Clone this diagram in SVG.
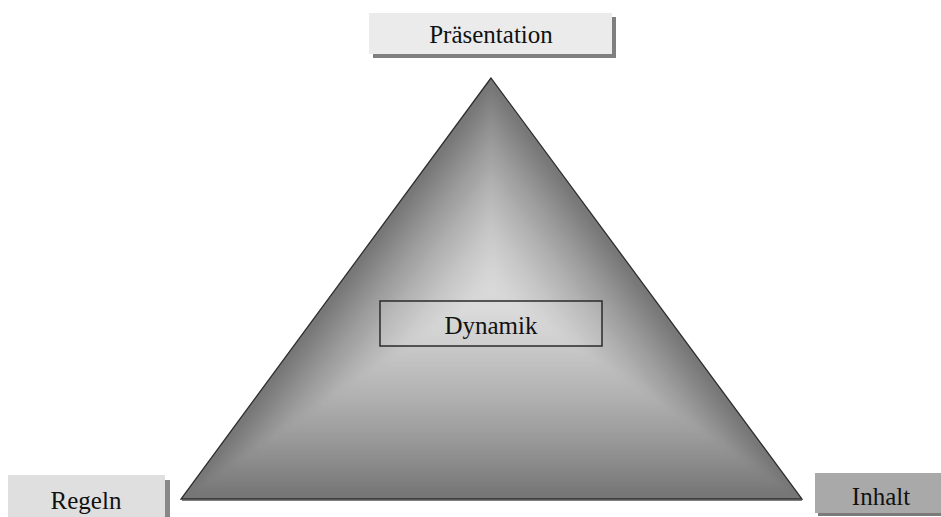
<svg xmlns="http://www.w3.org/2000/svg" xmlns:xlink="http://www.w3.org/1999/xlink" width="941" height="517" viewBox="0 0 941 517">
<style>
.lbl{font-family:"Liberation Serif","Times New Roman",serif;font-size:25px;fill:#111;text-anchor:middle}
</style>
<defs>
<polygon id="tri" points="491,78 181,499 802,499"/>
<clipPath id="triClip"><use xlink:href="#tri"/></clipPath>
<filter id="soft" x="-5%" y="-5%" width="110%" height="110%"><feGaussianBlur stdDeviation="3"/></filter>
</defs>
<rect width="941" height="517" fill="#fff"/>

<g id="pyramid">
<g clip-path="url(#triClip)">
<g filter="url(#soft)">
<use xlink:href="#tri" fill="#767676" transform="translate(491 289) scale(1.05) translate(-491 -289)"/>
<use xlink:href="#tri" fill="#7c7c7c" transform="translate(491 289) scale(0.96) translate(-491 -289)"/>
<use xlink:href="#tri" fill="#818181" transform="translate(491 289) scale(0.92) translate(-491 -289)"/>
<use xlink:href="#tri" fill="#868686" transform="translate(491 289) scale(0.88) translate(-491 -289)"/>
<use xlink:href="#tri" fill="#8c8c8c" transform="translate(491 289) scale(0.84) translate(-491 -289)"/>
<use xlink:href="#tri" fill="#919191" transform="translate(491 289) scale(0.80) translate(-491 -289)"/>
<use xlink:href="#tri" fill="#969696" transform="translate(491 289) scale(0.76) translate(-491 -289)"/>
<use xlink:href="#tri" fill="#9b9b9b" transform="translate(491 289) scale(0.72) translate(-491 -289)"/>
<use xlink:href="#tri" fill="#a0a0a0" transform="translate(491 289) scale(0.68) translate(-491 -289)"/>
<use xlink:href="#tri" fill="#a4a4a4" transform="translate(491 289) scale(0.64) translate(-491 -289)"/>
<use xlink:href="#tri" fill="#a9a9a9" transform="translate(491 289) scale(0.60) translate(-491 -289)"/>
<use xlink:href="#tri" fill="#aeaeae" transform="translate(491 289) scale(0.56) translate(-491 -289)"/>
<use xlink:href="#tri" fill="#b2b2b2" transform="translate(491 289) scale(0.52) translate(-491 -289)"/>
<use xlink:href="#tri" fill="#b6b6b6" transform="translate(491 289) scale(0.48) translate(-491 -289)"/>
<use xlink:href="#tri" fill="#bababa" transform="translate(491 289) scale(0.44) translate(-491 -289)"/>
<use xlink:href="#tri" fill="#bebebe" transform="translate(491 289) scale(0.40) translate(-491 -289)"/>
<use xlink:href="#tri" fill="#c2c2c2" transform="translate(491 289) scale(0.36) translate(-491 -289)"/>
<use xlink:href="#tri" fill="#c6c6c6" transform="translate(491 289) scale(0.32) translate(-491 -289)"/>
<use xlink:href="#tri" fill="#c9c9c9" transform="translate(491 289) scale(0.28) translate(-491 -289)"/>
<use xlink:href="#tri" fill="#cccccc" transform="translate(491 289) scale(0.24) translate(-491 -289)"/>
<use xlink:href="#tri" fill="#cfcfcf" transform="translate(491 289) scale(0.20) translate(-491 -289)"/>
<use xlink:href="#tri" fill="#d2d2d2" transform="translate(491 289) scale(0.16) translate(-491 -289)"/>
<use xlink:href="#tri" fill="#d5d5d5" transform="translate(491 289) scale(0.12) translate(-491 -289)"/>
<use xlink:href="#tri" fill="#d7d7d7" transform="translate(491 289) scale(0.08) translate(-491 -289)"/>
<use xlink:href="#tri" fill="#d9d9d9" transform="translate(491 289) scale(0.04) translate(-491 -289)"/>
</g>
</g>
<use xlink:href="#tri" fill="none" stroke="#2e2e2e" stroke-width="1.3" stroke-linejoin="miter"/>
<line x1="182" y1="500" x2="802" y2="500" stroke="#555" stroke-width="1.5"/>
</g>

<g id="dynamik">
<rect x="380" y="301" width="222" height="45" fill="#ffffff" fill-opacity="0.12" stroke="#2a2a2a" stroke-width="1.5"/>
<text class="lbl" x="491" y="334">Dynamik</text>
</g>

<g id="praesentation">
<rect x="373" y="17" width="243" height="41" fill="#7f7f7f"/>
<rect x="369" y="13" width="243" height="41" fill="#ebebeb"/>
<text class="lbl" x="491" y="43">Präsentation</text>
</g>

<g id="regeln">
<rect x="12" y="480" width="158" height="40" fill="#888888"/>
<rect x="8" y="475" width="157" height="45" fill="#dfdfdf"/>
<text class="lbl" x="86" y="509">Regeln</text>
</g>

<g id="inhalt">
<rect x="818" y="476" width="130" height="40" fill="#7a7a7a"/>
<rect x="815" y="473" width="130" height="40" fill="#a9a9a9"/>
<text class="lbl" x="881" y="505">Inhalt</text>
</g>

<g id="connectors"></g>
</svg>
